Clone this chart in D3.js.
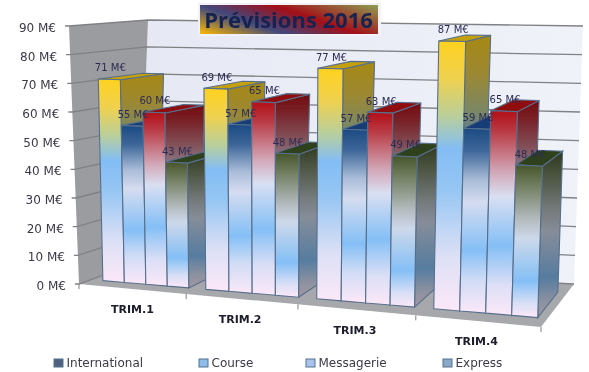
<!DOCTYPE html>
<html>
<head>
<meta charset="utf-8">
<script src="https://cdn.jsdelivr.net/npm/d3@7"></script>
<style>
  html, body { margin: 0; padding: 0; background: #fff; }
  svg { display: block; }
  text { font-family: "DejaVu Sans", sans-serif; }
</style>
</head>
<body>
<div id="chart-area"></div>
<script>
// Data
var categories = ["TRIM.1", "TRIM.2", "TRIM.3", "TRIM.4"];
var seriesNames = ["International", "Course", "Messagerie", "Express"];
var international = [71, 69, 77, 87];
var course = [55, 57, 57, 59];
var messagerie = [60, 65, 63, 65];
var express = [43, 48, 49, 48];
var seriesValues = [international, course, messagerie, express];
var yTicks = [0, 10, 20, 30, 40, 50, 60, 70, 80, 90];

var width = 589, height = 372;

var svg = d3.select("#chart-area").append("svg")
    .attr("width", width)
    .attr("height", height);
var defs = svg.append("defs");

// Corners of the 3D box as seen on screen
var box = {
    floor: { fl: [79, 284], fr: [541, 327], bl: [139, 262], br: [574, 284] },
    top: { fl: [69, 26], fr: [550, 36], bl: [148, 20], br: [583, 26] }
};

// Scales
var v = d3.scaleLinear().domain([0, 90]).range([0, 1]);
var x0 = d3.scaleBand().domain(categories).range([0, 1]).paddingInner(0.16).paddingOuter(0.08);
var x1 = d3.scaleBand().domain(seriesNames).range([0, x0.bandwidth()]);
// perspective makes the far right groups wider
var warp = d3.scaleLinear().domain([0, 0.02, 0.25, 0.5, 0.75, 1]).range([0, 0.026, 0.232, 0.474, 0.729, 1]);

// Bars take up this part of the depth
var barFront = 0.2, barBack = 0.8;

function mix(a, b, f) { return [a[0] + (b[0] - a[0]) * f, a[1] + (b[1] - a[1]) * f]; }

// t along categories, d depth, val value
function project(t, d, val) {
    var u = warp(t);
    function plane(p) {
        return mix(mix(p.fl, p.fr, u), mix(p.bl, p.br, u), d);
    }
    return mix(plane(box.floor), plane(box.top), v(val));
}

var line = d3.line();
function face(points) { return line(points) + "Z"; }

function addGradient(id, stops, darken) {
    var grad = defs.append("linearGradient").attr("id", id)
        .attr("x1", 0).attr("y1", 0).attr("x2", 0).attr("y2", 1);
    stops.forEach(function(s) {
        grad.append("stop").attr("offset", s[0])
            .attr("stop-color", darken ? d3.color(s[1]).darker(darken).formatHex() : s[1]);
    });
}

var barStops = [
    [[0, "#ffd21f"], [0.14, "#efd14f"], [0.28, "#b9cf9c"], [0.4, "#83bdf5"], [0.55, "#96c6f3"], [0.8, "#dde0f6"], [1, "#fce8f8"]],
    [[0, "#1b4a82"], [0.12, "#3d6699"], [0.28, "#a9bcd8"], [0.4, "#d5dcf0"], [0.66, "#84bff6"], [0.82, "#d0dcf6"], [1, "#fce8f8"]],
    [[0, "#b20f16"], [0.1, "#b93a44"], [0.3, "#d2a8b8"], [0.42, "#d9dff2"], [0.66, "#84bff6"], [0.85, "#dcdff6"], [1, "#fce8f8"]],
    [[0, "#46552a"], [0.16, "#78856a"], [0.36, "#b5bcc0"], [0.48, "#cdd8ea"], [0.76, "#84bff6"], [0.9, "#d6def6"], [1, "#fce8f8"]]
];
var topColors = ["#c5a00f", "#143c74", "#8f0a0e", "#2f3f1c"];
barStops.forEach(function(stops, i) {
    addGradient("front" + i, stops);
    addGradient("side" + i, stops, 1.2);
});

var wallGrad = defs.append("linearGradient").attr("id", "wall")
    .attr("x1", 0).attr("y1", 0).attr("x2", 1).attr("y2", 0);
wallGrad.append("stop").attr("offset", 0).attr("stop-color", "#e6e9f4");
wallGrad.append("stop").attr("offset", 1).attr("stop-color", "#f0f2f9");

var titleGrad = defs.append("linearGradient").attr("id", "titleFill")
    .attr("gradientUnits", "userSpaceOnUse")
    .attr("x1", 200).attr("y1", 34).attr("x2", 227).attr("y2", -46);
[[0, "#fdb900"], [0.32, "#41487c"], [0.6, "#a30f18"], [1, "#8d9f52"]].forEach(function(s) {
    titleGrad.append("stop").attr("offset", s[0]).attr("stop-color", s[1]);
});

// the reference is a soft, resampled picture
defs.append("filter").attr("id", "soft")
    .append("feGaussianBlur").attr("stdDeviation", 0.45);
defs.append("filter").attr("id", "softText")
    .append("feGaussianBlur").attr("stdDeviation", 0.3);

var g = svg.append("g").attr("filter", "url(#soft)");

// Walls and floor
g.append("path").attr("fill", "url(#wall)")
    .attr("d", face([project(0, 1, 0), project(1, 1, 0), project(1, 1, 90), project(0, 1, 90)]));
g.append("path").attr("fill", "#9b9c9f")
    .attr("d", face([project(0, 0, 0), project(0, 1, 0), project(0, 1, 90), project(0, 0, 90)]));
g.append("path").attr("fill", "#a7a8ab")
    .attr("d", face([project(0, 0, 0), project(1, 0, 0), project(1, 1, 0), project(0, 1, 0)]));

// Gridlines and ticks
yTicks.forEach(function(d) {
    g.append("path").attr("fill", "none").attr("stroke", "#808185").attr("stroke-width", 1.3)
        .attr("d", line([[project(0, 0, d)[0] - 4, project(0, 0, d)[1]], project(0, 0, d), project(0, 1, d), project(1, 1, d)]));
});
[0, 0.25, 0.5, 0.75, 1].forEach(function(t) {
    var p = project(t, 0, 0);
    g.append("line").attr("stroke", "#808185")
        .attr("x1", p[0]).attr("y1", p[1]).attr("x2", p[0]).attr("y2", p[1] + 5);
});

// Bars, left to right so each one covers the side of the one before
categories.forEach(function(cat, c) {
    seriesNames.forEach(function(name, s) {
        var val = seriesValues[s][c];
        var t0 = x0(cat) + x1(name), t1 = t0 + x1.bandwidth();
        var bar = g.append("g").attr("stroke", "#566f8c").attr("stroke-width", 1.1);
        bar.append("path").attr("fill", "url(#side" + s + ")")
            .attr("d", face([project(t1, barFront, 0), project(t1, barBack, 0), project(t1, barBack, val), project(t1, barFront, val)]));
        bar.append("path").attr("fill", topColors[s])
            .attr("d", face([project(t0, barFront, val), project(t1, barFront, val), project(t1, barBack, val), project(t0, barBack, val)]));
        bar.append("path").attr("fill", "url(#front" + s + ")")
            .attr("d", face([project(t0, barFront, 0), project(t1, barFront, 0), project(t1, barFront, val), project(t0, barFront, val)]));
    });
});

var labels = svg.append("g").attr("filter", "url(#softText)");

// Value labels on top of everything
categories.forEach(function(cat, c) {
    seriesNames.forEach(function(name, s) {
        var val = seriesValues[s][c];
        var t = x0(cat) + x1(name) + x1.bandwidth() / 2;
        var p = project(t, barFront, val);
        labels.append("text")
            .attr("x", p[0] + 1)
            .attr("y", p[1] - 8)
            .attr("text-anchor", "middle")
            .attr("font-size", 10)
            .attr("fill", "#2b2b55")
            .text(val + " M€");
    });
});

// Y labels
yTicks.forEach(function(d) {
    var p = project(0, 0, d);
    labels.append("text")
        .attr("x", p[0] - 13)
        .attr("y", p[1] + 6)
        .attr("text-anchor", "end")
        .attr("font-size", 12)
        .attr("fill", "#3a3a48")
        .text(d + " M€");
});

// Category labels
categories.forEach(function(cat) {
    var p = project(x0(cat) + x0.bandwidth() / 2, 0, 0);
    labels.append("text")
        .attr("x", p[0] - 2)
        .attr("y", p[1] + 24)
        .attr("text-anchor", "middle")
        .attr("font-size", 11)
        .attr("font-weight", "bold")
        .attr("fill", "#1a1a2a")
        .text(cat);
});

// Title
svg.append("rect").attr("x", 198).attr("y", 3).attr("width", 183).attr("height", 33)
    .attr("fill", "#f1f2f7");
svg.append("rect").attr("x", 200).attr("y", 5).attr("width", 178).attr("height", 29)
    .attr("fill", "url(#titleFill)");
svg.append("text")
    .attr("x", 288.5).attr("y", 27.5)
    .attr("text-anchor", "middle")
    .attr("font-size", 22)
    .attr("font-weight", "bold")
    .attr("fill", "#16244f")
    .attr("filter", "url(#softText)")
    .style("font-family", "'Open Sans', sans-serif")
    .text("Prévisions 2016");

// Legend
var legendX = d3.scaleOrdinal().domain(seriesNames).range([54, 199, 306, 443]);
var legendFill = d3.scaleOrdinal().domain(seriesNames).range(["#4f627f", "#8fbdea", "#a9c4ec", "#8aa8c8"]);
seriesNames.forEach(function(name) {
    labels.append("rect")
        .attr("x", legendX(name)).attr("y", 359)
        .attr("width", 9).attr("height", 8)
        .attr("fill", legendFill(name))
        .attr("stroke", "#55708f");
    labels.append("text")
        .attr("x", legendX(name) + 12.5)
        .attr("y", 367)
        .attr("font-size", 12)
        .attr("fill", "#3a3a48")
        .text(name);
});
</script>
</body>
</html>
